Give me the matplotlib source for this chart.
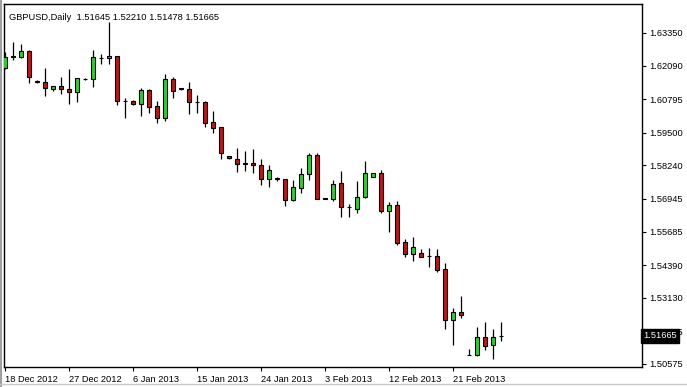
import matplotlib
matplotlib.use("Agg")
import matplotlib.pyplot as plt
from matplotlib.lines import Line2D

plt.rcParams['font.family'] = ['Liberation Sans', 'DejaVu Sans']

# GBPUSD daily candles
opens = [1.6200, 1.6246, 1.6244, 1.6266, 1.6150, 1.6145, 1.6119, 1.6130, 1.6119, 1.6106,
         1.6159, 1.6156, 1.6237, 1.6237, 1.6245, 1.6074, 1.6073, 1.6060, 1.6115, 1.6053,
         1.6008, 1.6156, 1.6121, 1.6118, 1.6070, 1.6070, 1.5991, 1.5971, 1.5860, 1.5847,
         1.5832, 1.5832, 1.5824, 1.5773, 1.5773, 1.5771, 1.5690, 1.5738, 1.5790, 1.5864,
         1.5697, 1.5694, 1.5755, 1.5662, 1.5657, 1.5701, 1.5780, 1.5793, 1.5649, 1.5670,
         1.5527, 1.5481, 1.5485, 1.5474, 1.5474, 1.5423, 1.5227, 1.5258, 1.5094, 1.5094,
         1.5163, 1.5130, 1.51645]
highs = [1.6262, 1.6300, 1.6291, 1.6271, 1.6154, 1.6201, 1.6130, 1.6165, 1.6196, 1.6161,
         1.6161, 1.6271, 1.6254, 1.6379, 1.6246, 1.6083, 1.6075, 1.6124, 1.6118, 1.6073,
         1.6177, 1.6164, 1.6124, 1.6147, 1.6096, 1.6074, 1.6034, 1.5971, 1.5862, 1.5890,
         1.5880, 1.5887, 1.5847, 1.5824, 1.5780, 1.5771, 1.5768, 1.5814, 1.5871, 1.5873,
         1.5698, 1.5768, 1.5803, 1.5674, 1.5764, 1.5841, 1.5794, 1.5806, 1.5684, 1.5688,
         1.5539, 1.5546, 1.5500, 1.5504, 1.5500, 1.5448, 1.5272, 1.5320, 1.5114, 1.5199,
         1.5220, 1.5191, 1.52210]
lows = [1.6196, 1.6231, 1.6237, 1.6143, 1.6142, 1.6093, 1.6112, 1.6100, 1.6060, 1.6069,
        1.6154, 1.6128, 1.6217, 1.6214, 1.6057, 1.6006, 1.6057, 1.6016, 1.6025, 1.5986,
        1.5996, 1.6083, 1.6115, 1.6022, 1.6027, 1.5971, 1.5948, 1.5847, 1.5849, 1.5800,
        1.5803, 1.5796, 1.5748, 1.5739, 1.5764, 1.5667, 1.5687, 1.5719, 1.5768, 1.5693,
        1.5695, 1.5688, 1.5626, 1.5626, 1.5641, 1.5699, 1.5779, 1.5641, 1.5568, 1.5517,
        1.5472, 1.5456, 1.5469, 1.5433, 1.5412, 1.5191, 1.5131, 1.5235, 1.5091, 1.5088,
        1.5111, 1.5078, 1.51478]
closes = [1.6242, 1.6244, 1.6266, 1.6164, 1.6147, 1.6122, 1.6129, 1.6119, 1.6106, 1.6160,
          1.6156, 1.6241, 1.6238, 1.6245, 1.6073, 1.6073, 1.6060, 1.6115, 1.6050, 1.6008,
          1.6156, 1.6112, 1.6117, 1.6070, 1.6068, 1.5989, 1.5969, 1.5871, 1.5851, 1.5828,
          1.5831, 1.5824, 1.5771, 1.5805, 1.5774, 1.5690, 1.5739, 1.5790, 1.5864, 1.5694,
          1.5696, 1.5752, 1.5662, 1.5663, 1.5701, 1.5793, 1.5793, 1.5649, 1.5670, 1.5526,
          1.5481, 1.5510, 1.5472, 1.5473, 1.5420, 1.5227, 1.5258, 1.5245, 1.5093, 1.5163,
          1.5127, 1.5163, 1.51665]

price_ticks = [1.63350, 1.62090, 1.60795, 1.59500, 1.58240, 1.56945,
               1.55685, 1.54390, 1.53130, 1.51835, 1.50575]
date_labels = ["18 Dec 2012", "27 Dec 2012", "6 Jan 2013", "15 Jan 2013",
               "24 Jan 2013", "3 Feb 2013", "12 Feb 2013", "21 Feb 2013"]
date_pos = [0, 8, 16, 24, 32, 40, 48, 56]

fig = plt.figure(figsize=(6.87, 3.87), dpi=100)
ax = fig.add_axes([4 / 687, 1 - 367 / 387, 638 / 687, 363 / 387])

x = list(range(len(opens)))
up_col = "#33cc33"
dn_col = "#b31b1b"

ax.vlines(x, lows, highs, color="black", linewidth=0.9, zorder=2)
bottoms = [min(o, c) for o, c in zip(opens, closes)]
heights = [abs(c - o) for o, c in zip(opens, closes)]
cols = [up_col if c >= o else dn_col for o, c in zip(opens, closes)]
ax.bar(x, heights, bottom=bottoms, width=0.62, color=cols,
       edgecolor="black", linewidth=0.8, zorder=3)

ax.set_xlim(-0.125, 79.625)
ax.set_ylim(1.50458, 1.64469)

ax.yaxis.tick_right()
ax.set_yticks(price_ticks)
ax.set_yticklabels(["%.5f" % p for p in price_ticks])
ax.tick_params(axis="y", direction="out", length=3, width=0.8, pad=2.5, labelsize=6.7)

ax.set_xticks(date_pos)
ax.set_xticklabels(date_labels)
ax.tick_params(axis="x", direction="out", length=3, width=0.8, pad=2.5, labelsize=6.7)
for lbl in ax.get_xticklabels():
    lbl.set_ha("left")

for s in ax.spines.values():
    s.set_linewidth(1.0)

ax.text(0.008, 0.975, "GBPUSD,Daily  %.5f %.5f %.5f %.5f"
        % (opens[-1], highs[-1], lows[-1], closes[-1]),
        transform=ax.transAxes, ha="left", va="top", fontsize=6.7)

# last price marker on the price scale
ax.text(1.0015, closes[-1], "%.5f" % closes[-1], transform=ax.get_yaxis_transform(),
        ha="left", va="center", fontsize=6.7, color="white", clip_on=False, zorder=10,
        bbox=dict(boxstyle="square,pad=0.25", facecolor="black", edgecolor="black"))

# window frame
fig.add_artist(Line2D([0.0015, 0.0015], [0, 1], color="#a0a0a0", linewidth=1.5))
fig.add_artist(Line2D([0, 1], [3 / 387, 3 / 387], color="#c8c8c8", linewidth=1.0))

fig.savefig("out.png", dpi=100)
